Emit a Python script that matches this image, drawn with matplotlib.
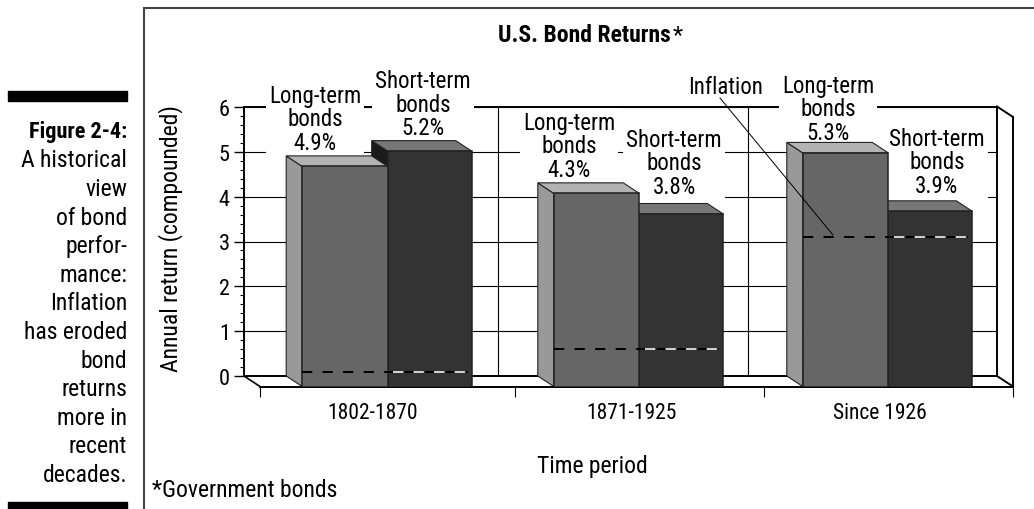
import numpy as np
import matplotlib
matplotlib.use('Agg')
import matplotlib.pyplot as plt
from matplotlib.patches import Polygon, Rectangle

plt.rcParams['font.family'] = ['Roboto Condensed', 'Liberation Sans', 'DejaVu Sans']

periods = ['1802-1870', '1871-1925', 'Since 1926']
long_term = [4.9, 4.3, 5.2]
short_term = [5.24, 3.84, 3.9]
long_labels = ['4.9%', '4.3%', '5.3%']
short_labels = ['5.2%', '3.8%', '3.9%']
inflation = [0.1, 0.6, 3.1]
caption = ['A historical', 'view', 'of bond', 'perfor-', 'mance:', 'Inflation',
           'has eroded', 'bond', 'returns', 'more in', 'recent', 'decades.']

W, H = 1034, 510
fig = plt.figure(figsize=(W/100, H/100), dpi=100)

def px_axes(x0, y0, x1, y1, z=0):
    # axes from pixel box, y counted from the top
    ax = fig.add_axes([x0/W, 1-y1/H, (x1-x0)/W, (y1-y0)/H], zorder=z)
    ax.patch.set_alpha(0)
    return ax

def overlay(z):
    ax = px_axes(0, 0, W, H, z)
    ax.set_xlim(0, W); ax.set_ylim(H, 0); ax.axis('off')
    return ax

# page furniture, pixel coords
bg = overlay(0)
bg.add_patch(Rectangle((8, 92), 119, 10, color='black'))
bg.add_patch(Rectangle((8, 503), 119, 8, color='black'))
bg.plot([144, 144, W], [H, 9, 9], color='#444444', lw=1.5, solid_joinstyle='miter')
bg.text(127, 132, 'Figure 2-4:', ha='right', va='center', fontsize=16, fontweight='bold')
for i, s in enumerate(caption):
    bg.text(127, 161+i*28.6, s, ha='right', va='center', fontsize=17)
bg.text(498, 35, 'U.S. Bond Returns', ha='left', va='center', fontsize=17, fontweight='bold')
bg.text(673, 36, '*', ha='left', va='center', fontsize=17)
bg.text(152, 491, '*Government bonds', ha='left', va='center', fontsize=17)
bg.text(592, 467, 'Time period', ha='center', va='center', fontsize=17)

# back wall
wall = px_axes(244, 108, 997, 377, 1)
bounds = [0, 254, 504, 753]
wall.set_xlim(0, 753); wall.set_ylim(0, 6)
wall.set_yticks(range(7))
wall.set_yticks(np.arange(0, 6.01, 0.2), minor=True)
wall.tick_params(axis='y', which='major', length=7.2, width=1, labelsize=16, pad=3)
wall.tick_params(axis='y', which='minor', length=3, width=0.8)
wall.set_xticks(bounds[1:3]); wall.set_xticklabels([])
wall.tick_params(axis='x', length=0)
wall.grid(True, color='black', lw=0.8)
for s in ['left', 'top', 'bottom', 'right']:
    wall.spines[s].set_linewidth(1.4)
wall.set_ylabel('Annual return (compounded)', fontsize=17)
wall.yaxis.set_label_coords((183-244)/753, (377-239)/269)

# labels sit on the wall, white box cuts the gridlines, bars go over them
lab = overlay(2)
def label(x, y, head, val):
    lab.text(x, y, head+'\n'+val, ha='center', va='center', fontsize=16.5, linespacing=1.02,
             bbox=dict(fc='white', ec='none', pad=2))

label(315, 120, 'Long-term\nbonds', long_labels[0])
label(423, 105, 'Short-term\nbonds', short_labels[0])
label(569, 147, 'Long-term\nbonds', long_labels[1])
label(674, 164, 'Short-term\nbonds', short_labels[1])
label(828, 110, 'Long-term\nbonds', long_labels[2])
label(937, 163, 'Short-term\nbonds', short_labels[2])

# front plane, bars sit here
front = px_axes(260, 118, 1013, 387.5, 3)
front.set_xlim(0, 753); front.set_ylim(0, 6)
for s in ['left', 'top']:
    front.spines[s].set_visible(False)
front.spines['bottom'].set_linewidth(1.4)
front.spines['right'].set_linewidth(1.4)
front.set_xticks([0, 255, 504, 753]); front.set_xticklabels([])
front.set_xticks([113, 371.5, 620], minor=True); front.set_xticklabels(periods, minor=True)
front.tick_params(axis='x', which='major', length=7.2, width=0.8)
front.tick_params(axis='x', which='minor', length=0, labelsize=15.5, pad=11)
front.set_yticks([])

dx = 16.0           # depth in pixels along x
dy = 10.5/44.9      # depth in value units
centers = [127.7, 379.3, 628.3]
bw_long, bw_short = 85.5, 84.0

# floor edges and right side
front.plot([-dx, 0], [dy, 0], color='black', lw=1.2, clip_on=False)
front.plot([753-dx, 753], [dy, 0], color='black', lw=1.4, clip_on=False)
front.plot([753-dx, 753], [6+dy, 6], color='black', lw=1.4, clip_on=False)

def box(x, w, h, c_front, c_side, c_top):
    front.bar(x, h, width=w, align='edge', color=c_front, edgecolor='#222222', lw=1.1, zorder=3)
    front.add_patch(Polygon([(x, 0), (x-dx, dy), (x-dx, h+dy), (x, h)], closed=True,
                            fc=c_side, ec='#222222', lw=0.8, zorder=2, clip_on=False))
    front.add_patch(Polygon([(x, h), (x-dx, h+dy), (x+w-dx, h+dy), (x+w, h)], closed=True,
                            fc=c_top, ec='#222222', lw=0.8, zorder=2, clip_on=False))

for i in range(3):
    c = centers[i]
    box(c, bw_short, short_term[i], '#333333', '#1a1a1a', '#777777')
    box(c-bw_long, bw_long, long_term[i], '#666666', '#999999', '#b3b3b3')
    # inflation, dashed black then light dashes on the dark bar
    yy = inflation[i]+dy
    front.plot([c-bw_long, c+bw_short-4], [yy, yy], color='black', lw=1.45, ls=(0, (5.1, 5.1)),
               zorder=5, dash_capstyle='butt')
    front.plot([c+5.5, c+bw_short-4], [yy, yy], color='#d0d0d0', lw=1.45, ls=(0, (5.1, 5.1)),
               zorder=6, dash_capstyle='butt')

# inflation callout goes over everything
top = overlay(4)
top.text(726, 87, 'Inflation', ha='center', va='center', fontsize=16.5)
top.plot([720, 833], [99, 236], color='black', lw=0.7)

fig.savefig('out.png', dpi=100)
